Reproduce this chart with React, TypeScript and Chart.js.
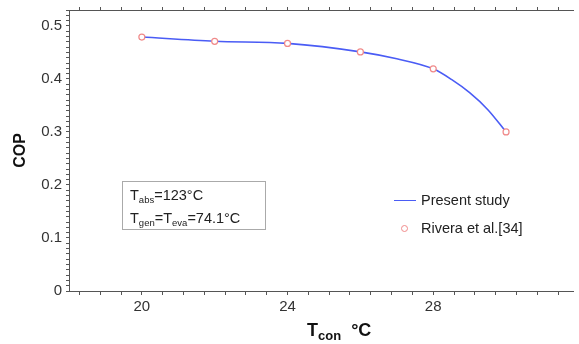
import React, { useEffect, useRef } from "react";
import { Chart, registerables } from "chart.js";

Chart.register(...registerables);

const tconPresent = [20, 22, 24, 26, 27, 28, 28.5, 29, 29.5, 30];
const copPresent = [0.479, 0.471, 0.467, 0.451, 0.438, 0.419, 0.399, 0.374, 0.342, 0.3];
const tconRivera = [20, 22, 24, 26, 28, 30];
const copRivera = [0.479, 0.471, 0.467, 0.451, 0.419, 0.3];
const xLabels = [20, 24, 28];
const yLabels = [0, 0.1, 0.2, 0.3, 0.4, 0.5];
const X_MIN = 18;
const X_MAX = 31.86;
const Y_MIN = 0;
const Y_MAX = 0.53;
const X_MINOR_STEP = 4 / 7;
const Y_MINOR_STEP = 0.01;

const FONT = "'Liberation Sans', Arial, Helvetica, sans-serif";
const AXIS = "#555";

function xTickValues() {
  const v: number[] = [];
  const start = 20 - Math.floor((20 - X_MIN) / X_MINOR_STEP) * X_MINOR_STEP;
  for (let x = start; x <= X_MAX + 1e-9; x += X_MINOR_STEP) v.push(+x.toFixed(6));
  return v;
}
function yTickValues() {
  const v: number[] = [];
  for (let i = 0; i * Y_MINOR_STEP <= Y_MAX + 1e-9; i++) v.push(+(i * Y_MINOR_STEP).toFixed(4));
  return v;
}
const isX = (v: number) => xLabels.some((l) => Math.abs(l - v) < 1e-4);
const isY = (v: number) => yLabels.some((l) => Math.abs(l - v) < 1e-4);

export default function App() {
  const ref = useRef<HTMLCanvasElement>(null);
  useEffect(() => {
    if (!ref.current) return;
    const chart = new Chart(ref.current, {
      type: "line",
      data: {
        datasets: [
          {
            label: "Rivera et al.[34]",
            data: tconRivera.map((x, i) => ({ x, y: copRivera[i] })),
            showLine: false,
            pointStyle: "circle",
            pointRadius: 3,
            pointBorderWidth: 1.2,
            pointBorderColor: "#f08a8a",
            pointBackgroundColor: "#ffffff",
            order: 0,
          },
          {
            label: "Present study",
            data: tconPresent.map((x, i) => ({ x, y: copPresent[i] })),
            borderColor: "#4a5cf5",
            borderWidth: 1.6,
            pointRadius: 0,
            cubicInterpolationMode: "monotone",
            fill: false,
            order: 1,
          },
        ],
      },
      options: {
        animation: false,
        responsive: false,
        maintainAspectRatio: false,
        layout: { padding: { left: 0, right: 0, top: 10, bottom: 0 } },
        plugins: { legend: { display: false }, tooltip: { enabled: false } },
        scales: {
          x: {
            type: "linear",
            min: X_MIN,
            max: X_MAX,
            afterBuildTicks: (s: any) => {
              s.ticks = xTickValues().map((value) => ({ value }));
            },
            afterFit: (s: any) => {
              s.height = 53;
              s.paddingLeft = 0;
              s.paddingRight = 0;
            },
            border: { display: true, color: AXIS, width: 1 },
            grid: { drawOnChartArea: false, drawTicks: true, tickLength: 4, tickColor: AXIS },
            ticks: {
              autoSkip: false,
              maxRotation: 0,
              padding: 3,
              color: "#333",
              font: { family: FONT, size: 15 },
              callback: (v: any) => (isX(+v) ? String(Math.round(+v)) : ""),
            },
          },
          xTop: {
            type: "linear",
            position: "top",
            min: X_MIN,
            max: X_MAX,
            afterBuildTicks: (s: any) => {
              s.ticks = xTickValues().map((value) => ({ value }));
            },
            afterFit: (s: any) => {
              s.height = 0;
              s.paddingLeft = 0;
              s.paddingRight = 0;
            },
            border: { display: true, color: AXIS, width: 1 },
            grid: { drawOnChartArea: false, drawTicks: true, tickLength: 3, tickColor: AXIS },
            ticks: { display: false },
          },
          y: {
            type: "linear",
            min: Y_MIN,
            max: Y_MAX,
            afterBuildTicks: (s: any) => {
              s.ticks = yTickValues().map((value) => ({ value }));
            },
            afterFit: (s: any) => {
              s.width = 69;
              s.paddingTop = 0;
              s.paddingBottom = 0;
            },
            border: { display: true, color: AXIS, width: 1 },
            grid: { drawOnChartArea: false, drawTicks: true, tickLength: 3, tickColor: AXIS },
            title: {
              display: true,
              text: "COP",
              color: "#111",
              font: { family: FONT, size: 16, weight: "bold" },
              padding: { top: 11, bottom: 0 },
            },
            ticks: {
              autoSkip: false,
              padding: 4,
              color: "#333",
              font: { family: FONT, size: 15 },
              callback: (v: any) => (isY(+v) ? (Math.abs(+v) < 1e-6 ? "0" : (+v).toFixed(1)) : ""),
            },
          },
        },
      },
    });
    return () => chart.destroy();
  }, []);

  const txt: React.CSSProperties = { fontFamily: FONT, color: "#222", fontSize: 14.5, position: "absolute", whiteSpace: "nowrap" };
  const sub: React.CSSProperties = { fontSize: 9.5, verticalAlign: "-3px" };

  return (
    <div style={{ position: "absolute", left: 0, top: 0, width: 579, height: 344, background: "#fff" }}>
      <canvas ref={ref} width={579} height={344} style={{ display: "block" }} />
      <div
        style={{
          position: "absolute",
          left: 122,
          top: 181,
          width: 144,
          height: 49,
          border: "1.5px solid #aaa",
          boxSizing: "border-box",
        }}
      />
      <div style={{ ...txt, left: 130, top: 187 }}>
        T<span style={sub}>abs</span>=123°C
      </div>
      <div style={{ ...txt, left: 130, top: 210 }}>
        T<span style={sub}>gen</span>=T<span style={sub}>eva</span>=74.1°C
      </div>
      <div style={{ position: "absolute", left: 394, top: 200, width: 22, height: 0, borderTop: "1.6px solid #4a5cf5" }} />
      <div style={{ ...txt, left: 421, top: 192 }}>Present study</div>
      <div
        style={{
          position: "absolute",
          left: 401,
          top: 225,
          width: 5,
          height: 5,
          borderRadius: "50%",
          border: "1.2px solid #f08a8a",
          background: "#fff",
        }}
      />
      <div style={{ ...txt, left: 421, top: 220 }}>Rivera et al.[34]</div>
      <div style={{ ...txt, left: 307, top: 320, fontSize: 18, fontWeight: "bold", color: "#111" }}>
        T<span style={{ fontSize: 13, verticalAlign: "-4px" }}>con</span>&nbsp;&nbsp;°C
      </div>
    </div>
  );
}
